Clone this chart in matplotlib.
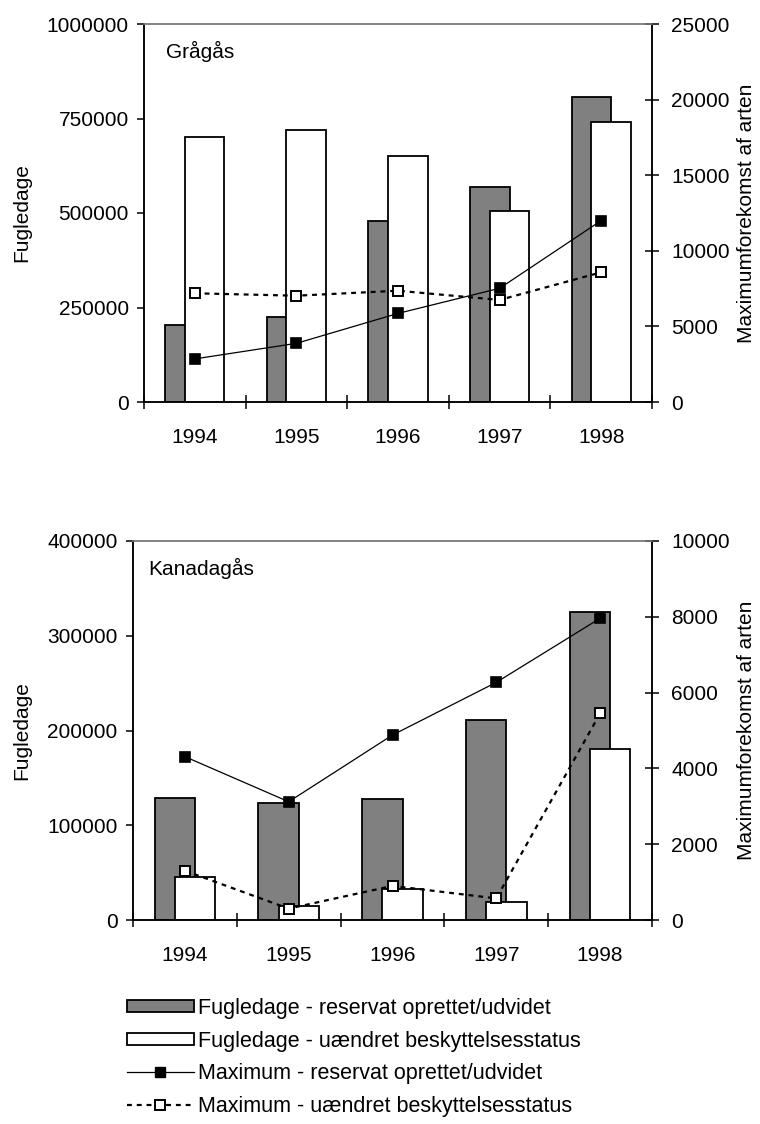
import numpy as np
import matplotlib
matplotlib.use("Agg")
import matplotlib.pyplot as plt
from matplotlib.patches import Patch
from matplotlib.lines import Line2D
from matplotlib.ticker import StrMethodFormatter

plt.rcParams['font.family'] = ['Liberation Sans', 'DejaVu Sans']
plt.rcParams['font.size'] = 15

years = ['1994', '1995', '1996', '1997', '1998']

# Grågås
gra_dage_res = [205000, 226000, 479000, 570000, 806000]
gra_dage_uae = [702000, 720000, 652000, 505000, 742000]
gra_max_res = [2850, 3880, 5860, 7520, 12000]
gra_max_uae = [7190, 7030, 7360, 6750, 8580]

# Kanadagås
kan_dage_res = [129000, 124000, 128000, 211000, 325000]
kan_dage_uae = [45400, 15100, 32700, 19000, 180500]
kan_max_res = [4310, 3120, 4880, 6270, 7960]
kan_max_uae = [1300, 300, 900, 570, 5450]

legend_labels = ['Fugledage - reservat oprettet/udvidet',
                 'Fugledage - uændret beskyttelsesstatus',
                 'Maximum - reservat oprettet/udvidet',
                 'Maximum - uændret beskyttelsesstatus']

GREY = '#808080'


def draw_panel(ax, title, dage_res, dage_uae, max_res, max_uae, ymax, y2max, ystep, y2step, title_x):
    x = np.arange(len(years))
    w = 0.39
    off = 0.097
    ax.bar(x - off, dage_res, width=w, color=GREY, edgecolor='black', linewidth=1.3, zorder=2)
    ax.bar(x + off, dage_uae, width=w, color='white', edgecolor='black', linewidth=1.3, zorder=3)
    ax.set_xlim(-0.5, len(years) - 0.5)
    ax.set_ylim(0, ymax)
    ax.set_yticks(np.arange(0, ymax + 1, ystep))
    ax.yaxis.set_major_formatter(StrMethodFormatter('{x:.0f}'))
    ax.set_xticks(np.arange(-0.5, len(years), 1.0))
    ax.set_xticklabels([])
    ax.set_xticks(x, minor=True)
    ax.set_xticklabels(years, minor=True)
    ax.tick_params(axis='x', which='major', direction='inout', length=10, width=1.1)
    ax.tick_params(axis='x', which='minor', length=0, pad=19)
    ax.tick_params(axis='y', direction='out', length=5, width=1.1, pad=6)
    ax.set_ylabel('Fugledage')
    ax.text(title_x, 0.927, title, transform=ax.transAxes, va='center', ha='left')

    ax2 = ax.twinx()
    ax2.plot(x, max_res, color='black', lw=0.9, marker='s', ms=7.2,
             mfc='black', mec='black', mew=1.2, zorder=5)
    ax2.plot(x, max_uae, color='black', lw=1.6, ls=(0, (2.2, 2.2)), marker='s', ms=7.2,
             mfc='white', mec='black', mew=1.4, zorder=5)
    ax2.set_ylim(0, y2max)
    ax2.set_yticks(np.arange(0, y2max + 1, y2step))
    ax2.yaxis.set_major_formatter(StrMethodFormatter('{x:.0f}'))
    ax2.tick_params(axis='y', direction='inout', length=10, width=1.1, pad=9)
    ax2.set_ylabel('Maximumforekomst af arten')

    for a in (ax, ax2):
        for s in ('left', 'right', 'bottom'):
            a.spines[s].set_linewidth(1.1)
        a.spines['top'].set_color(GREY)
        a.spines['top'].set_linewidth(1.1)
    return ax2


fig = plt.figure(figsize=(7.6, 11.24), dpi=100)
ax_top = fig.add_axes([144 / 760, 1 - 402 / 1124, 508 / 760, 378 / 1124])
ax_bot = fig.add_axes([133 / 760, 1 - 920 / 1124, 519 / 760, 379 / 1124])

t2 = draw_panel(ax_top, 'Grågås', gra_dage_res, gra_dage_uae, gra_max_res, gra_max_uae,
                1000000, 25000, 250000, 5000, 0.043)
b2 = draw_panel(ax_bot, 'Kanadagås', kan_dage_res, kan_dage_uae, kan_max_res, kan_max_uae,
                400000, 10000, 100000, 2000, 0.029)

ax_top.yaxis.set_label_coords((31 - 144) / 508, 0.5)
ax_bot.yaxis.set_label_coords((31 - 133) / 519, 0.5)
t2.yaxis.set_label_coords((737 - 144) / 508, 0.5)
b2.yaxis.set_label_coords((737 - 133) / 519, 0.5)

handles = [Patch(facecolor=GREY, edgecolor='black', linewidth=1.3),
           Patch(facecolor='white', edgecolor='black', linewidth=1.3),
           Line2D([], [], color='black', lw=0.9, marker='s', ms=7.2, mfc='black', mec='black'),
           Line2D([], [], color='black', lw=1.6, ls=(0, (2.2, 2.2)), marker='s', ms=7.2,
                  mfc='white', mec='black', mew=1.4)]
fig.legend(handles, legend_labels, loc='upper left', bbox_to_anchor=(127 / 760, 1 - 998 / 1124),
           frameon=False, borderpad=0, borderaxespad=0, handlelength=3.1, handleheight=0.5,
           handletextpad=0.2, labelspacing=0.54, numpoints=1, fontsize=15.5)

fig.savefig('out.png', dpi=100)
